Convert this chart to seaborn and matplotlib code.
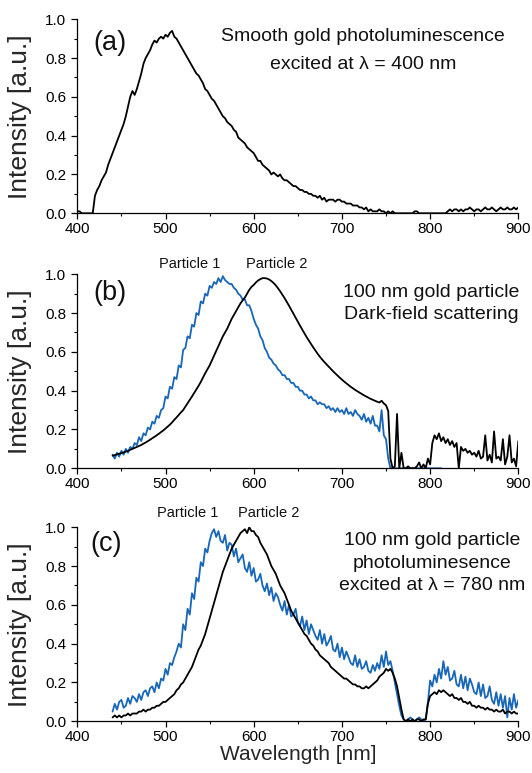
import numpy as np
import pandas as pd
import matplotlib
matplotlib.use("Agg")
import matplotlib.pyplot as plt
import seaborn as sns
from matplotlib.ticker import MultipleLocator

# ---------------------------------------------------------------------------
# Spectra, sampled every 2.5 nm (each row below covers 20 nm)
# ---------------------------------------------------------------------------
STEP = 2.5

# (a) smooth gold film, excited at 400 nm -- starts at 400 nm
start_a = 400.0
smooth_pl = [
    0.01, 0.01, 0.00, 0.00, 0.00, 0.00, 0.00, 0.00,   # 400
    0.09, 0.12, 0.14, 0.17, 0.19, 0.21, 0.25, 0.28,   # 420
    0.31, 0.34, 0.37, 0.40, 0.43, 0.46, 0.50, 0.55,   # 440
    0.60, 0.63, 0.61, 0.64, 0.68, 0.72, 0.77, 0.80,   # 460
    0.82, 0.84, 0.87, 0.89, 0.88, 0.90, 0.91, 0.90,   # 480
    0.92, 0.91, 0.93, 0.94, 0.91, 0.90, 0.88, 0.86,   # 500
    0.84, 0.82, 0.80, 0.78, 0.76, 0.74, 0.72, 0.71,   # 520
    0.69, 0.67, 0.64, 0.63, 0.61, 0.59, 0.58, 0.56,   # 540
    0.54, 0.52, 0.50, 0.49, 0.47, 0.46, 0.45, 0.43,   # 560
    0.42, 0.39, 0.38, 0.37, 0.36, 0.34, 0.33, 0.32,   # 580
    0.31, 0.29, 0.27, 0.27, 0.25, 0.24, 0.23, 0.22,   # 600
    0.20, 0.21, 0.20, 0.19, 0.20, 0.18, 0.17, 0.17,   # 620
    0.16, 0.15, 0.14, 0.14, 0.13, 0.12, 0.12, 0.11,   # 640
    0.11, 0.10, 0.10, 0.09, 0.09, 0.08, 0.09, 0.07,   # 660
    0.08, 0.06, 0.07, 0.07, 0.07, 0.06, 0.07, 0.07,   # 680
    0.06, 0.06, 0.05, 0.05, 0.05, 0.04, 0.04, 0.04,   # 700
    0.03, 0.03, 0.02, 0.03, 0.01, 0.02, 0.01, 0.01,   # 720
    0.01, 0.02, 0.01, 0.01, 0.00, 0.01, 0.00, 0.01,   # 740
    0.00, 0.00, 0.00, 0.00, 0.00, 0.00, 0.00, 0.00,   # 760
    0.00, 0.01, 0.01, 0.00, 0.00, 0.00, 0.00, 0.00,   # 780
    0.00, 0.00, 0.00, 0.00, 0.00, 0.00, 0.00, 0.00,   # 800
    0.01, 0.02, 0.01, 0.02, 0.02, 0.01, 0.02, 0.01,   # 820
    0.02, 0.02, 0.03, 0.02, 0.01, 0.02, 0.02, 0.01,   # 840
    0.02, 0.03, 0.02, 0.02, 0.03, 0.02, 0.01, 0.02,   # 860
    0.03, 0.02, 0.02, 0.03, 0.02, 0.02, 0.03, 0.02,   # 880
    0.03,                                             # 900
]

# (b) dark-field scattering of two 100 nm particles -- start at 440 nm
start_b = 440.0
scat_p1 = [
    0.07, 0.05, 0.08, 0.06, 0.09, 0.07, 0.10, 0.08,   # 440
    0.11, 0.10, 0.13, 0.12, 0.16, 0.14, 0.18, 0.17,   # 460
    0.21, 0.20, 0.24, 0.23, 0.27, 0.26, 0.30, 0.31,   # 480
    0.37, 0.36, 0.42, 0.41, 0.47, 0.46, 0.53, 0.52,   # 500
    0.61, 0.62, 0.68, 0.67, 0.74, 0.73, 0.80, 0.79,   # 520
    0.86, 0.85, 0.90, 0.89, 0.94, 0.93, 0.96, 0.95,   # 540
    0.98, 0.96, 0.99, 0.97, 0.96, 0.95, 0.95, 0.93,   # 560
    0.92, 0.90, 0.89, 0.87, 0.87, 0.84, 0.84, 0.81,   # 580
    0.77, 0.74, 0.72, 0.68, 0.66, 0.62, 0.60, 0.57,   # 600
    0.56, 0.54, 0.53, 0.51, 0.50, 0.48, 0.48, 0.46,   # 620
    0.46, 0.44, 0.44, 0.42, 0.42, 0.40, 0.40, 0.38,   # 640
    0.38, 0.36, 0.37, 0.35, 0.35, 0.33, 0.34, 0.33,   # 660
    0.33, 0.31, 0.32, 0.30, 0.31, 0.29, 0.31, 0.29,   # 680
    0.30, 0.28, 0.31, 0.28, 0.29, 0.27, 0.30, 0.28,   # 700
    0.27, 0.25, 0.28, 0.24, 0.26, 0.23, 0.27, 0.22,   # 720
    0.22, 0.19, 0.30, 0.17, 0.15, 0.05, 0.00, 0.00,   # 740
    0.00, 0.00, 0.00, 0.00, 0.00, 0.00, 0.00, 0.00,   # 760
    0.00, 0.00, 0.00, 0.00, 0.00, 0.00, 0.00, 0.00,   # 780
    0.00, 0.00, 0.00, 0.00, 0.00, 0.00,               # 800
]
scat_p2 = [
    0.065, 0.068, 0.072, 0.075, 0.078, 0.082, 0.086, 0.090,   # 440
    0.095, 0.100, 0.105, 0.110, 0.115, 0.120, 0.127, 0.133,   # 460
    0.140, 0.147, 0.155, 0.162, 0.170, 0.178, 0.187, 0.195,   # 480
    0.205, 0.215, 0.225, 0.237, 0.250, 0.262, 0.275, 0.288,   # 500
    0.300, 0.318, 0.335, 0.352, 0.370, 0.388, 0.405, 0.425,   # 520
    0.445, 0.468, 0.490, 0.510, 0.530, 0.555, 0.580, 0.605,   # 540
    0.630, 0.655, 0.680, 0.700, 0.720, 0.745, 0.770, 0.790,   # 560
    0.810, 0.830, 0.850, 0.866, 0.880, 0.900, 0.920, 0.935,   # 580
    0.945, 0.958, 0.968, 0.975, 0.980, 0.980, 0.978, 0.973,   # 600
    0.965, 0.955, 0.943, 0.928, 0.912, 0.895, 0.877, 0.858,   # 620
    0.838, 0.818, 0.797, 0.776, 0.755, 0.735, 0.715, 0.695,   # 640
    0.676, 0.658, 0.640, 0.623, 0.606, 0.590, 0.575, 0.561,   # 660
    0.548, 0.536, 0.524, 0.512, 0.500, 0.489, 0.478, 0.467,   # 680
    0.457, 0.447, 0.438, 0.429, 0.420, 0.412, 0.404, 0.397,   # 700
    0.390, 0.383, 0.376, 0.370, 0.364, 0.358, 0.353, 0.348,   # 720
    0.343, 0.339, 0.348, 0.334, 0.325, 0.295, 0.050, 0.000,   # 740
    0.010, 0.280, 0.000, 0.080, 0.000, 0.000, 0.010, 0.000,   # 760
    0.000, 0.000, 0.010, 0.030, 0.000, 0.020, 0.000, 0.050,   # 780
    0.020, 0.130, 0.170, 0.150, 0.180, 0.140, 0.160, 0.130,   # 800
    0.150, 0.120, 0.140, 0.110, 0.130, 0.000, 0.110, 0.090,   # 820
    0.100, 0.080, 0.090, 0.070, 0.080, 0.060, 0.090, 0.050,   # 840
    0.060, 0.170, 0.040, 0.070, 0.030, 0.190, 0.050, 0.060,   # 860
    0.040, 0.150, 0.020, 0.060, 0.170, 0.030, 0.050, 0.010,   # 880
    0.140,                                                    # 900
]

# (c) photoluminescence of the same particles, excited at 780 nm
start_c = 440.0
pl_p1 = [
    0.05, 0.09, 0.06, 0.10, 0.11, 0.07, 0.08, 0.12,   # 440
    0.09, 0.13, 0.12, 0.10, 0.14, 0.11, 0.15, 0.16,   # 460
    0.13, 0.17, 0.18, 0.15, 0.20, 0.17, 0.22, 0.21,   # 480
    0.27, 0.24, 0.30, 0.29, 0.33, 0.36, 0.40, 0.38,   # 500
    0.50, 0.47, 0.58, 0.55, 0.66, 0.63, 0.74, 0.72,   # 520
    0.82, 0.80, 0.89, 0.87, 0.93, 0.97, 0.99, 0.95,   # 540
    0.98, 0.93, 0.92, 0.96, 0.88, 0.92, 0.91, 0.85,   # 560
    0.89, 0.82, 0.84, 0.86, 0.79, 0.77, 0.82, 0.75,   # 580
    0.79, 0.72, 0.73, 0.76, 0.70, 0.67, 0.71, 0.65,   # 600
    0.69, 0.62, 0.66, 0.64, 0.60, 0.57, 0.62, 0.55,   # 620
    0.60, 0.54, 0.55, 0.58, 0.51, 0.49, 0.54, 0.47,   # 640
    0.52, 0.45, 0.50, 0.47, 0.44, 0.42, 0.47, 0.40,   # 660
    0.45, 0.39, 0.41, 0.44, 0.37, 0.36, 0.40, 0.33,   # 680
    0.38, 0.32, 0.36, 0.33, 0.30, 0.29, 0.34, 0.28,   # 700
    0.32, 0.27, 0.28, 0.31, 0.26, 0.25, 0.29, 0.26,   # 720
    0.30, 0.27, 0.34, 0.28, 0.36, 0.29, 0.31, 0.26,   # 740
    0.20, 0.14, 0.08, 0.03, 0.01, 0.00, 0.01, 0.02,   # 760
    0.01, 0.00, 0.01, 0.02, 0.01, 0.00, 0.01, 0.10,   # 780
    0.21, 0.18, 0.24, 0.20, 0.27, 0.22, 0.31, 0.24,   # 800
    0.28, 0.21, 0.22, 0.26, 0.19, 0.18, 0.24, 0.17,   # 820
    0.23, 0.16, 0.22, 0.19, 0.15, 0.14, 0.20, 0.13,   # 840
    0.19, 0.12, 0.13, 0.18, 0.11, 0.09, 0.15, 0.08,   # 860
    0.14, 0.07, 0.13, 0.02, 0.12, 0.06, 0.14, 0.07,   # 880
    0.11,                                             # 900
]
pl_p2 = [
    0.02, 0.03, 0.02, 0.03, 0.02, 0.03, 0.03, 0.04,   # 440
    0.03, 0.04, 0.04, 0.04, 0.05, 0.05, 0.06, 0.05,   # 460
    0.06, 0.06, 0.07, 0.07, 0.08, 0.08, 0.09, 0.10,   # 480
    0.10, 0.11, 0.12, 0.13, 0.14, 0.16, 0.17, 0.19,   # 500
    0.20, 0.22, 0.24, 0.26, 0.28, 0.31, 0.34, 0.37,   # 520
    0.39, 0.42, 0.45, 0.49, 0.53, 0.57, 0.61, 0.65,   # 540
    0.69, 0.73, 0.77, 0.80, 0.83, 0.86, 0.89, 0.91,   # 560
    0.93, 0.95, 0.97, 0.98, 0.99, 0.97, 1.00, 0.98,   # 580
    0.98, 0.96, 0.95, 0.92, 0.90, 0.88, 0.86, 0.83,   # 600
    0.80, 0.78, 0.76, 0.73, 0.70, 0.68, 0.66, 0.63,   # 620
    0.60, 0.57, 0.55, 0.53, 0.51, 0.49, 0.47, 0.45,   # 640
    0.44, 0.42, 0.40, 0.39, 0.37, 0.36, 0.34, 0.33,   # 660
    0.32, 0.31, 0.30, 0.28, 0.27, 0.26, 0.25, 0.24,   # 680
    0.23, 0.22, 0.22, 0.21, 0.20, 0.19, 0.19, 0.18,   # 700
    0.18, 0.17, 0.17, 0.18, 0.17, 0.18, 0.19, 0.20,   # 720
    0.21, 0.23, 0.24, 0.25, 0.27, 0.26, 0.27, 0.25,   # 740
    0.22, 0.18, 0.12, 0.06, 0.01, 0.00, 0.01, 0.00,   # 760
    0.01, 0.00, 0.01, 0.01, 0.00, 0.01, 0.01, 0.09,   # 780
    0.13, 0.14, 0.15, 0.14, 0.16, 0.15, 0.16, 0.15,   # 800
    0.14, 0.13, 0.14, 0.12, 0.12, 0.11, 0.12, 0.10,   # 820
    0.10, 0.09, 0.10, 0.08, 0.08, 0.07, 0.08, 0.07,   # 840
    0.07, 0.06, 0.07, 0.06, 0.06, 0.05, 0.06, 0.05,   # 860
    0.05, 0.06, 0.04, 0.05, 0.05, 0.04, 0.05, 0.04,   # 880
    0.04,                                             # 900
]

panel_tags = ["(a)", "(b)", "(c)"]
panel_notes = [
    ["Smooth gold photoluminescence", "excited at \u03bb = 400 nm"],
    ["100 nm gold particle", "Dark-field scattering"],
    ["100 nm gold particle", "photoluminesence", "excited at \u03bb = 780 nm"],
]
particle_names = ["Particle 1", "Particle 2"]

BLUE = "#1766b8"
BLACK = "#000000"
LW = 1.3


def frame(start, values):
    wl = start + STEP * np.arange(len(values))
    return pd.DataFrame({"wavelength": wl, "intensity": values})


sns.set_theme(style="ticks", rc={
    "axes.edgecolor": "black",
    "axes.linewidth": 0.9,
    "xtick.color": "black",
    "ytick.color": "black",
    "xtick.direction": "out",
    "ytick.direction": "out",
    "xtick.major.size": 4.0,
    "ytick.major.size": 4.3,
    "xtick.minor.size": 2.2,
    "ytick.minor.size": 2.2,
    "xtick.major.width": 0.9,
    "ytick.major.width": 0.9,
    "xtick.minor.width": 0.8,
    "ytick.minor.width": 0.8,
})
plt.rcParams["font.family"] = ["Liberation Sans", "DejaVu Sans"]
plt.rcParams["text.color"] = "#111111"

fig = plt.figure(figsize=(5.32, 7.73), dpi=100)
LEFT, WIDTH, HEIGHT = 0.1453, 0.829, 0.251
bottoms = [0.7241, 0.3942, 0.0669]
axes = [fig.add_axes([LEFT, b, WIDTH, HEIGHT]) for b in bottoms]

# panel (a)
sns.lineplot(data=frame(start_a, smooth_pl), x="wavelength", y="intensity",
             ax=axes[0], color=BLACK, linewidth=LW, estimator=None)
# panel (b)
sns.lineplot(data=frame(start_b, scat_p1), x="wavelength", y="intensity",
             ax=axes[1], color=BLUE, linewidth=LW, estimator=None)
sns.lineplot(data=frame(start_b, scat_p2), x="wavelength", y="intensity",
             ax=axes[1], color=BLACK, linewidth=LW, estimator=None)
# panel (c)
sns.lineplot(data=frame(start_c, pl_p1), x="wavelength", y="intensity",
             ax=axes[2], color=BLUE, linewidth=LW, estimator=None)
sns.lineplot(data=frame(start_c, pl_p2), x="wavelength", y="intensity",
             ax=axes[2], color=BLACK, linewidth=LW, estimator=None)

for ax in axes:
    ax.set_xlim(400, 900)
    ax.set_ylim(0, 1.0)
    ax.xaxis.set_major_locator(MultipleLocator(100))
    ax.xaxis.set_minor_locator(MultipleLocator(50))
    ax.yaxis.set_major_locator(MultipleLocator(0.2))
    ax.yaxis.set_minor_locator(MultipleLocator(0.1))
    ax.yaxis.set_major_formatter(matplotlib.ticker.FormatStrFormatter("%.1f"))
    sns.despine(ax=ax)
    ax.tick_params(axis="both", which="major", labelsize=11, pad=2.5)
    ax.tick_params(axis="y", which="major", pad=3.5)
    ax.set_ylabel("Intensity [a.u.]", fontsize=19)
    ax.yaxis.set_label_coords(-0.103, 0.5)
    ax.set_xlabel("")

axes[2].set_xlabel("Wavelength [nm]", fontsize=15)
axes[2].xaxis.set_label_coords(0.5, -0.12)

# panel tags
tag_pos = [(437, 0.878), (437, 0.904), (433, 0.915)]
for ax, tag, (tx, ty) in zip(axes, panel_tags, tag_pos):
    ax.text(tx, ty, tag, fontsize=19.5, ha="center", va="center")

# explanatory notes, one line at a time
note_layout = [
    (724, [0.887, 0.742]),
    (801, [0.881, 0.770]),
    (802, [0.910, 0.790, 0.678]),
]
for ax, lines, (cx, ys) in zip(axes, panel_notes, note_layout):
    for line, y in zip(lines, ys):
        ax.text(cx, y, line, fontsize=14, ha="center", va="baseline",
                clip_on=False)

# particle names above panels (b) and (c)
for ax, xs, y in [(axes[1], (527, 626), 1.034), (axes[2], (525, 617), 1.054)]:
    for name, x in zip(particle_names, xs):
        ax.text(x, y, name, fontsize=10.5, ha="center", va="baseline",
                clip_on=False)

fig.savefig("out.png", dpi=100)
